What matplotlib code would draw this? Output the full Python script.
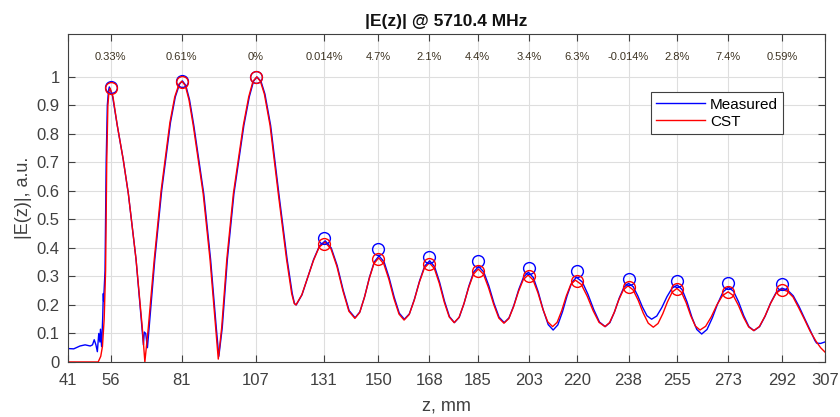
import numpy as np
import matplotlib.pyplot as plt

plt.rcParams['font.family'] = ['Liberation Sans', 'DejaVu Sans']

# CST curve (z in mm, |E| in a.u.)
z_cst = [41, 46, 51.6, 52.5, 53.1, 53.7, 54.2, 54.6, 55.0, 55.4, 55.8, 56.8, 58.3, 60.4, 62.2,
         64.9, 67.1, 68.0, 69.2, 71.3, 73.7, 76.8, 78.5, 80.0, 81.0, 82.2, 83.5, 85.0, 88.5,
         90.9, 92.9, 93.8, 95.0, 96.8, 99.1, 102.6, 104.5, 106.0, 107.3, 108.6, 110.0, 112.0,
         114.9, 117.8, 119.6, 120.5,
         121.1, 123.14, 125.18, 127.22, 129.26,
         131.3, 133.4, 135.5, 137.6, 139.7,
         141.8, 143.48, 145.16, 146.84, 148.52,
         150.2, 151.98, 153.76, 155.54, 157.32,
         159.1, 160.88, 162.66, 164.44, 166.22,
         168.0, 169.74, 171.48, 173.22, 174.96,
         176.7, 178.4, 180.1, 181.8, 183.5,
         185.2, 187.0, 188.8, 190.6, 192.4,
         194.2, 195.9, 197.6, 199.3, 201.0,
         202.7, 204.42, 206.14, 207.86, 209.58,
         211.3, 212.9, 214.5, 216.1, 217.7,
         219.3, 221.38, 223.46, 225.54, 227.62,
         229.7, 231.32, 232.94, 234.56, 236.18,
         237.8, 239.58, 241.36, 243.14, 244.92,
         246.7, 248.36, 250.02, 251.68, 253.34,
         255.0, 256.62, 258.24, 259.86, 261.48,
         263.1, 265.08, 267.06, 269.04, 271.02,
         273.0, 274.8, 276.6, 278.4, 280.2,
         282.0, 283.96, 285.92, 287.88, 289.84,
         291.8, 293.8, 295.8, 297.8, 299.8, 301.8, 303.8, 305.5, 307]
e_cst = [0, 0, 0, 0.02, 0.055, 0.15, 0.32, 0.7, 0.9, 0.95, 0.96, 0.93, 0.83, 0.71, 0.59,
         0.36, 0.12, 0.0, 0.12, 0.36, 0.6, 0.84, 0.93, 0.975, 0.985, 0.97, 0.92, 0.83, 0.59,
         0.36, 0.12, 0.01, 0.12, 0.36, 0.59, 0.83, 0.93, 0.985, 1.0, 0.985, 0.94, 0.83,
         0.59, 0.36, 0.24, 0.205,
         0.2, 0.235, 0.295, 0.355, 0.403,
         0.42, 0.397, 0.335, 0.25, 0.178,
         0.153, 0.173, 0.226, 0.292, 0.345,
         0.365, 0.344, 0.29, 0.222, 0.168,
         0.147, 0.166, 0.216, 0.279, 0.329,
         0.348, 0.328, 0.276, 0.21, 0.158,
         0.138, 0.156, 0.203, 0.261, 0.308,
         0.326, 0.308, 0.26, 0.202, 0.154,
         0.136, 0.152, 0.194, 0.247, 0.289,
         0.305, 0.288, 0.243, 0.186, 0.141,
         0.124, 0.139, 0.18, 0.231, 0.272,
         0.287, 0.272, 0.231, 0.18, 0.139,
         0.124, 0.138, 0.173, 0.218, 0.253,
         0.267, 0.253, 0.217, 0.172, 0.136,
         0.122, 0.135, 0.169, 0.211, 0.245,
         0.258, 0.244, 0.208, 0.162, 0.126,
         0.112, 0.125, 0.158, 0.2, 0.233,
         0.246, 0.233, 0.199, 0.157, 0.123,
         0.11, 0.124, 0.16, 0.205, 0.241,
         0.255, 0.248, 0.228, 0.19, 0.15, 0.108, 0.074, 0.05, 0.035]

# measured curve
z_meas = [41, 43, 45.2, 47, 48.8, 49.6, 50.2, 50.8, 51.3, 51.8, 52.2, 52.4, 52.8, 53.2, 53.4,
          53.5, 54.0, 54.4, 54.8, 55.2, 55.5, 56.6, 58.3, 60.4, 62.2, 64.9, 67.0, 67.5, 67.8,
          68.3, 68.9, 69.5, 71.5, 73.9, 77.0, 78.7, 80.2, 81.2, 82.4, 83.7, 85.2, 88.7, 91.1,
          93.1, 94.0, 95.2, 97.0, 99.3, 102.8, 104.7, 106.2, 107.4, 108.8, 110.2, 112.2,
          115.1, 118.0, 119.8, 120.6,
          121.2, 123.24, 125.28, 127.32, 129.36,
          131.4, 133.5, 135.6, 137.7, 139.8,
          141.9, 143.58, 145.26, 146.94, 148.62,
          150.3, 152.08, 153.86, 155.64, 157.42,
          159.2, 160.98, 162.76, 164.54, 166.32,
          168.1, 169.84, 171.58, 173.32, 175.06,
          176.8, 178.5, 180.2, 181.9, 183.6,
          185.3, 187.1, 188.9, 190.7, 192.5,
          194.3, 196.0, 197.7, 199.4, 201.1,
          202.8, 204.54, 206.28, 208.02, 209.76,
          211.5, 213.14, 214.78, 216.42, 218.06,
          219.7, 221.72, 223.74, 225.76, 227.78,
          229.8, 231.44, 233.08, 234.72, 236.36,
          238.0, 239.62, 241.24, 242.86, 244.48,
          246.1, 247.9, 249.7, 251.5, 253.3,
          255.1, 256.82, 258.54, 260.26, 261.98,
          263.7, 265.58, 267.46, 269.34, 271.22,
          273.1, 274.9, 276.7, 278.5, 280.3,
          282.1, 284.06, 286.02, 287.98, 289.94,
          291.9, 293.9, 295.9, 297.9, 299.9, 301.9, 303.5, 304.1, 305.5, 307]
e_meas = [0.047, 0.046, 0.056, 0.06, 0.056, 0.06, 0.078, 0.06, 0.036, 0.1, 0.07, 0.115, 0.054,
          0.16, 0.24, 0.215, 0.32, 0.7, 0.9, 0.95, 0.965, 0.935, 0.83, 0.71, 0.59, 0.36, 0.12,
          0.06, 0.105, 0.1, 0.05, 0.12, 0.36, 0.6, 0.84, 0.93, 0.975, 0.986, 0.97, 0.92, 0.83,
          0.59, 0.36, 0.12, 0.02, 0.12, 0.36, 0.59, 0.83, 0.93, 0.985, 1.0, 0.985, 0.94, 0.83,
          0.59, 0.36, 0.24, 0.205,
          0.2, 0.236, 0.298, 0.36, 0.407,
          0.425, 0.4, 0.338, 0.252, 0.18,
          0.155, 0.176, 0.23, 0.297, 0.351,
          0.372, 0.351, 0.295, 0.227, 0.171,
          0.15, 0.169, 0.221, 0.284, 0.336,
          0.355, 0.334, 0.28, 0.213, 0.159,
          0.138, 0.157, 0.206, 0.267, 0.316,
          0.335, 0.316, 0.267, 0.206, 0.157,
          0.138, 0.155, 0.199, 0.254, 0.298,
          0.315, 0.296, 0.245, 0.182, 0.131,
          0.112, 0.13, 0.176, 0.233, 0.279,
          0.297, 0.281, 0.237, 0.184, 0.14,
          0.124, 0.138, 0.176, 0.224, 0.262,
          0.276, 0.264, 0.232, 0.193, 0.162,
          0.15, 0.161, 0.191, 0.229, 0.259,
          0.27, 0.254, 0.211, 0.157, 0.114,
          0.098, 0.114, 0.155, 0.205, 0.246,
          0.262, 0.248, 0.21, 0.162, 0.124,
          0.11, 0.124, 0.161, 0.208, 0.245,
          0.259, 0.252, 0.232, 0.195, 0.152, 0.11, 0.075, 0.066, 0.065, 0.07]

# peak markers and field-flatness labels
z_peaks = [56, 81, 107, 131, 150, 168, 185, 203, 220, 238, 255, 273, 292]
peak_meas = [0.965, 0.987, 1.0, 0.435, 0.397, 0.37, 0.355, 0.33, 0.318, 0.29, 0.283, 0.276, 0.273]
peak_cst = [0.96, 0.982, 1.0, 0.415, 0.36, 0.343, 0.32, 0.30, 0.283, 0.262, 0.257, 0.245, 0.254]
diff_labels = ['0.33%', '0.61%', '0%', '0.014%', '4.7%', '2.1%', '4.4%', '3.4%', '6.3%',
               '-0.014%', '2.8%', '7.4%', '0.59%']
x_ticks = [41] + z_peaks + [307]

fig = plt.figure(figsize=(8.4, 4.17), dpi=100)
ax = fig.add_axes([0.081, 0.132, 0.901, 0.786])
fig.set_facecolor('white')

ax.plot(z_meas, e_meas, color='#0000ff', lw=1.0, label='Measured')
ax.plot(z_cst, e_cst, color='#ff0000', lw=1.0, label='CST')
ax.plot(z_peaks, peak_meas, 'o', mfc='none', mec='#0000ff', ms=8.5, mew=1.0)
ax.plot(z_peaks, peak_cst, 'o', mfc='none', mec='#ff0000', ms=8.5, mew=1.0)
for zp, lab in zip(z_peaks, diff_labels):
    ax.text(zp, 1.07, lab, ha='center', va='center', fontsize=8, color='#3d3322')

ax.set_xlim(41, 307)
ax.set_ylim(0, 1.15)
ax.set_xticks(x_ticks)
ax.set_yticks(np.arange(0, 1.01, 0.1))
ax.set_yticklabels(['0', '0.1', '0.2', '0.3', '0.4', '0.5', '0.6', '0.7', '0.8', '0.9', '1'])
ax.grid(True, color='#dedede', lw=0.8)
ax.set_axisbelow(True)
ax.tick_params(direction='in', top=True, right=True, length=5, labelsize=12,
               colors='#404040', width=0.8)
ax.tick_params(axis='x', pad=8)
ax.tick_params(axis='y', pad=6)
for s in ax.spines.values():
    s.set_color('#404040')
    s.set_linewidth(0.8)

ax.set_title('|E(z)| @ 5710.4 MHz', fontsize=12.5, fontweight='bold', color='#111111', pad=6)
ax.set_xlabel('z, mm', fontsize=13, color='#404040', labelpad=7)
ax.set_ylabel('|E(z)|, a.u.', fontsize=13, color='#404040', labelpad=3)

leg = ax.legend(loc='upper right', bbox_to_anchor=(0.945, 0.823), borderaxespad=0,
                fontsize=11, handlelength=3.2, handletextpad=0.3, borderpad=0.35,
                labelspacing=0.2, fancybox=False, framealpha=1, edgecolor='#404040')
leg.get_frame().set_linewidth(0.8)

plt.savefig('out.png', dpi=100)
